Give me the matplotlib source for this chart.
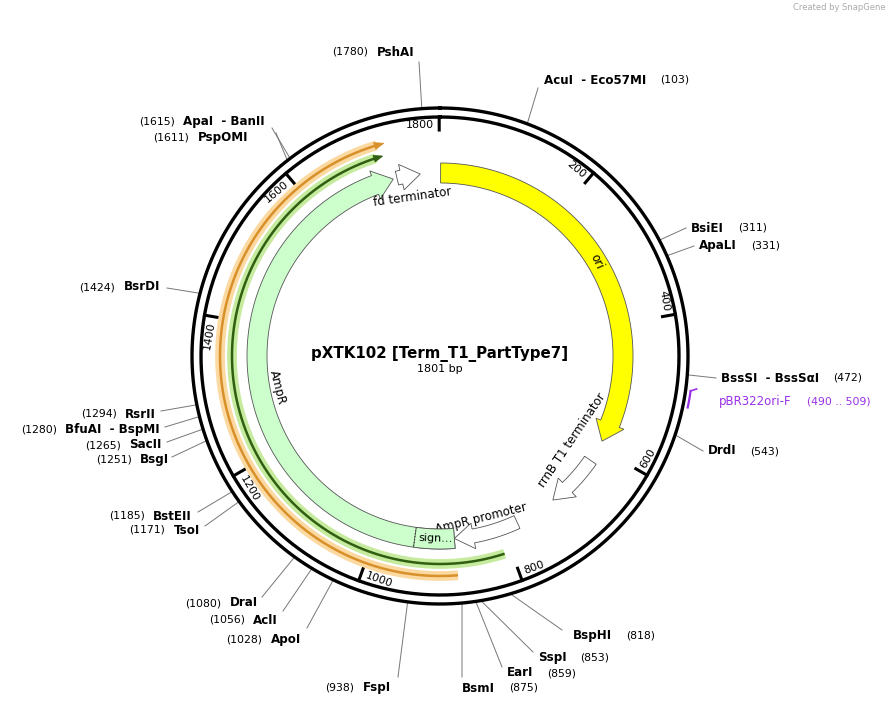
import numpy as np
import matplotlib
matplotlib.use("Agg")
import matplotlib.pyplot as plt
from matplotlib.patches import Polygon

TOTAL = 1801
title = "pXTK102 [Term_T1_PartType7]"

# enzymes: name, position, text x, text y, side, line end
enz_names = ["PshAI", "AcuI  - Eco57MI", "BsiEI", "ApaLI", "BssSI  - BssSαI", "DrdI",
             "BspHI", "SspI", "EarI", "BsmI", "FspI", "ApoI", "AclI", "DraI", "TsoI",
             "BstEII", "BsgI", "SacII", "BfuAI  - BspMI", "RsrII", "BsrDI", "PspOMI", "ApaI  - BanII"]
enz_pos = [1780, 103, 311, 331, 472, 543, 818, 853, 859, 875, 938, 1028, 1056, 1080, 1171,
           1185, 1251, 1265, 1280, 1294, 1424, 1611, 1615]
enz_tx = [414, 544, 691, 699, 721, 708, 573, 538, 507, 462, 391, 301, 278, 258, 200,
          192, 169, 162, 160, 156, 160, 248, 265]
enz_ty = [52, 80, 228, 246, 378, 451, 635, 657, 673, 688, 688, 639, 620, 603, 530,
          516, 460, 445, 430, 414, 287, 137, 122]
enz_side = ["L", "R", "R", "R", "R", "R", "R", "R", "R", "R", "L", "L", "L", "L", "L",
            "L", "L", "L", "L", "L", "L", "L", "L"]
enz_end = [(419, 62), (538, 88), (686, 228), (694, 246), (716, 378), (703, 451),
           (562, 630), (533, 652), (502, 667), (462, 677), (398, 677), (307, 628),
           (283, 611), (262, 597), (205, 526), (198, 512), (172, 457), (167, 442),
           (165, 427), (161, 411), (167, 288), (276, 133), (272, 128)]

# features
feat_names = ["ori", "rrnB T1 terminator", "AmpR promoter", "AmpR", "fd terminator"]
feat_start = [1, 624, 776, 878, 1733]
feat_end = [589, 710, 878, 1727, 1770]
feat_color = ["#ffff00", "#ffffff", "#ffffff", "#ccffcc", "#ffffff"]

ticks = [200, 400, 600, 800, 1000, 1200, 1400, 1600, 1800]

CX, CY = 440, 356

def ang(p):
    return p / TOTAL * 360.0

def pt(r, a):
    t = np.radians(a)
    return CX + r * np.sin(t), CY - r * np.cos(t)

fig = plt.figure(figsize=(8.92, 7.06), dpi=100)
ax = fig.add_axes([0, 0, 1, 1])
ax.set_xlim(0, 892)
ax.set_ylim(706, 0)
ax.axis("off")

def arc(r, a1, a2, n=200):
    a = np.linspace(a1, a2, n)
    return [pt(r, x) for x in a]

# backbone
for r in (248, 239):
    xs, ys = zip(*arc(r, 0, 360, 720))
    ax.plot(xs, ys, color="black", lw=2.4, zorder=2)

# ticks
for t in ticks:
    a = ang(t)
    (x1, y1), (x2, y2) = pt(239, a), pt(226, a)
    ax.plot([x1, x2], [y1, y2], color="black", lw=2.2, zorder=2)
    a = a % 360
    if a <= 90 or a >= 270:
        rot, ha = -a, "right"
    else:
        rot, ha = 180 - a, "left"
    lx, ly = pt(231, a - 1.2)
    ax.text(lx, ly, str(t), rotation=rot, ha=ha, va="center", rotation_mode="anchor",
            fontsize=8, family="DejaVu Sans")

def arrow_band(a1, a2, rin, rout, head_deg, fc, ec, lw=0.6, z=3, head_extra=5):
    a_body = a2 - head_deg
    pts = arc(rout, a1, a_body, 120)
    pts += [pt(rout + head_extra, a_body), pt((rin + rout) / 2, a2), pt(rin - head_extra, a_body)]
    pts += arc(rin, a_body, a1, 120)
    ax.add_patch(Polygon(pts, closed=True, fc=fc, ec=ec, lw=lw, zorder=z))

# outer ORF-like lines
def line_arrow(a1, a2, r, core, halo, z):
    xs, ys = zip(*arc(r, a1, a2 - 2, 200))
    ax.plot(xs, ys, color=halo, lw=7, solid_capstyle="butt", zorder=z)
    ax.plot(xs, ys, color=core, lw=1.8, solid_capstyle="butt", zorder=z + 0.1)
    p = [pt(r + 3.5, a2 - 2.5), pt(r, a2), pt(r - 3.5, a2 - 2.5)]
    ax.add_patch(Polygon(p, closed=True, fc=core, ec=core, lw=0.5, zorder=z + 0.2))

line_arrow(ang(877), ang(1727), 220, "#d8902a", "#fcd9a0", 3)
line_arrow(ang(810), ang(1721), 208, "#2f5f10", "#c6eb9e", 3)

# features
for nm, s, e, c in zip(feat_names, feat_start, feat_end, feat_color):
    a1, a2 = ang(s), ang(e)
    if nm in ("ori", "AmpR"):
        arrow_band(a1, a2, 173, 193, 6, c, "#555555")
    else:
        arrow_band(a1, a2, 176, 190, 6, c, "#555555", head_extra=6)

# signal sequence box
sa1, sa2 = ang(878), ang(940)
pts = arc(193, sa1, sa2, 40) + arc(173, sa2, sa1, 40)
ax.add_patch(Polygon(pts, closed=True, fc="#ccffcc", ec="#555555", lw=0.6, zorder=4))
xs, ys = zip(*[pt(173, sa2), pt(193, sa2)])
ax.plot(xs, ys, ls=":", color="#333333", lw=0.8, zorder=5)
ax.text(*pt(183, ang(908)), "sign…", rotation=180 - ang(908), ha="center", va="center",
        rotation_mode="anchor", fontsize=8, zorder=6)

# feature labels
ax.text(597, 262, "ori", rotation=-66, ha="center", va="center", fontsize=8.5)
ax.text(572, 440, "rrnB T1 terminator", rotation=56, ha="center", va="center", fontsize=8.5)
ax.text(481, 518, "AmpR promoter", rotation=14, ha="center", va="center", fontsize=8.5)
ax.text(412, 197, "fd terminator", rotation=8, ha="center", va="center", fontsize=8.5)
ax.text(277, 387, "AmpR", rotation=-76, ha="center", va="center", fontsize=8.5)

# primer
pa1, pa2 = ang(490), ang(509)
xs, ys = zip(*arc(253, pa1, pa2, 20))
ax.plot(xs, ys, color="#9a30e6", lw=1.6, zorder=4)
x0, y0 = pt(253, pa1)
ax.plot([x0, x0 + 6], [y0, y0 - 2], color="#9a30e6", lw=1.2)
ax.text(719, 401, "pBR322ori-F", color="#9a30e6", fontsize=8.5, va="center")
ax.text(807, 401, "(490 .. 509)", color="#9a30e6", fontsize=7.8, va="center")

# enzymes
for nm, p, tx, ty, sd, le in zip(enz_names, enz_pos, enz_tx, enz_ty, enz_side, enz_end):
    sx, sy = pt(248, ang(p))
    ax.plot([sx, le[0]], [sy, le[1]], color="#777777", lw=0.7, zorder=1)
    if sd == "R":
        t = ax.text(tx, ty, nm, fontsize=8.6, fontweight="bold", ha="left", va="center")
        ax.annotate(f"({p})", xy=(1, 0.5), xycoords=t, xytext=(10, 0),
                    textcoords="offset points", ha="left", va="center", fontsize=7.8)
    else:
        t = ax.text(tx, ty, nm, fontsize=8.6, fontweight="bold", ha="right", va="center")
        ax.annotate(f"({p})", xy=(0, 0.5), xycoords=t, xytext=(-6, 0),
                    textcoords="offset points", ha="right", va="center", fontsize=7.8)

ax.text(440, 354, title, ha="center", va="center", fontsize=10.8, fontweight="bold")
ax.text(440, 369, f"{TOTAL} bp", ha="center", va="center", fontsize=8)
ax.text(886, 8, "Created by SnapGene", ha="right", va="center", fontsize=6, color="#aaaaaa")

fig.savefig("out.png", dpi=100)
